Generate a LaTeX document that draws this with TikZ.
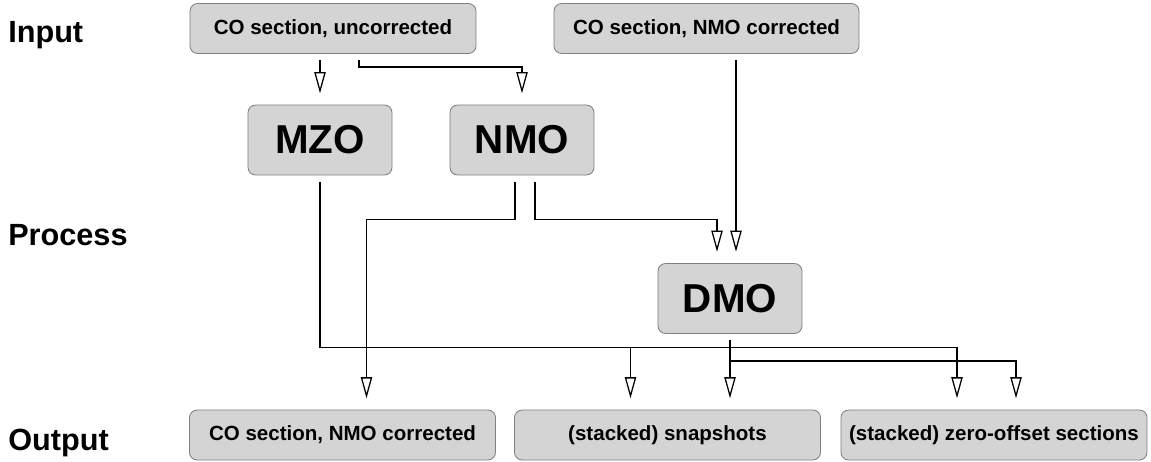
\documentclass[tikz,border=0pt]{standalone}
\usepackage{fontspec}
\setmainfont{Liberation Sans}
\usetikzlibrary{arrows.meta,calc}

\begin{document}
\begin{tikzpicture}[x=0.025cm,y=-0.025cm,
  box/.style={draw=black!50,fill=black!17,rounded corners=5.5pt,line width=0.6pt,inner sep=0pt},
  iobox/.style={box,minimum width=7.65cm,minimum height=1.25cm,font=\fontsize{14.6}{17}\selectfont\bfseries},
  procbox/.style={box,minimum width=3.6cm,minimum height=1.75cm,font=\fontsize{28.7}{33}\selectfont\bfseries},
  rowlabel/.style={anchor=base west,inner sep=0pt,font=\fontsize{21.8}{26}\selectfont\bfseries},
  flow/.style={line width=0.9pt,-{Triangle[open,length=15pt,width=8pt]},shorten >=8pt}]
\useasboundingbox (0,0) rectangle (1151,461);
\node[rowlabel] (linput) at (8,42) {Input};
\node[rowlabel] (lprocess) at (8,245) {Process};
\node[rowlabel] (loutput) at (8,450) {Output};
\node[iobox,minimum width=7.15cm] (in1) at (333,28.5) {CO section, uncorrected};
\node[iobox,minimum width=7.625cm] (in2) at (706.5,28.5) {CO section, NMO corrected};
\node[procbox] (mzo) at (320,140) {MZO};
\node[procbox] (nmo) at (522,140) {NMO};
\node[procbox] (dmo) at (730,298.5) {DMO};
\node[iobox] (out1) at (342.5,435) {CO section, NMO corrected};
\node[iobox] (out2) at (667.5,435) {(stacked) snapshots};
\node[iobox] (out3) at (994,435) {(stacked) zero-offset sections};
\coordinate (dmoa) at ($(dmo.north)+(-13,0)$);
\coordinate (dmob) at ($(dmo.north)+(6,0)$);
\coordinate (snapa) at ($(out2.north)+(-37,0)$);
\coordinate (snapb) at (dmo.south |- out2.north);
\coordinate (zoa) at ($(out3.north)+(-37,0)$);
\coordinate (zob) at ($(out3.north)+(22,0)$);
\draw[flow,shorten <=4.5pt] (in1.south -| mzo.north) -- (mzo.north);
\draw[flow,shorten <=4.5pt] ($(in1.south)+(26,0)$) -- ++(0,13) -| (nmo.north);
\draw[flow,shorten <=4.5pt] (in2.south -| dmob) -- (dmob);
\draw[flow,shorten <=4.5pt] ($(nmo.south)+(13,0)$) -- ++(0,44) -| (dmoa);
\draw[flow,shorten <=4.5pt] ($(nmo.south)+(-7,0)$) -- ++(0,44) -| ($(out1.north)+(24,0)$);
\draw[flow,shorten <=4.5pt] (mzo.south) -- ++(0,172) coordinate (mzobus) -| (zoa);
\draw[flow] (mzobus -| snapa) -- (snapa);
\draw[flow,shorten <=4.5pt] (dmo.south) -- (snapb);
\draw[flow] ($(dmo.south)+(0,27)$) -| (zob);
\end{tikzpicture}
\end{document}
